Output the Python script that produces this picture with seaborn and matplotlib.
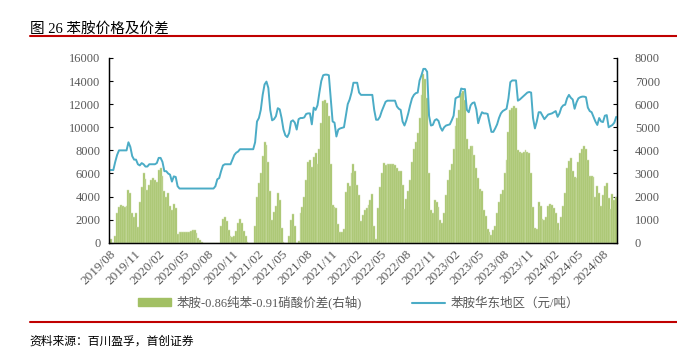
import pandas as pd
import matplotlib
matplotlib.use("Agg")
import matplotlib.pyplot as plt
import matplotlib.dates as mdates
from matplotlib.lines import Line2D
from matplotlib.patches import Patch
import seaborn as sns

# weekly observations, first week ending 2019-08-02
START = "2019-08-02"

# 苯胺华东地区 (元/吨), left axis
aniline_price = [
    6300, 6300, 6300, 7000, 7600, 8000, 8000, 8000, 8000, 8000,
    8700, 8300, 7500, 7200, 7200, 6800, 6700, 6900, 6800, 6600,
    6600, 6800, 6800, 6800, 6800, 6900, 7350, 7350, 7000, 6200,
    6200, 6000, 5900, 5300, 5750, 5700, 4900, 4700, 4700, 4700,
    4700, 4700, 4700, 4700, 4700, 4700, 4700, 4700, 4700, 4700,
    4700, 4700, 4700, 4700, 4700, 4700, 4900, 5500, 5600, 6200,
    6700, 6800, 6800, 6800, 6800, 7200, 7600, 7800, 7900, 8100,
    8100, 8100, 8100, 8100, 8100, 8100, 8100, 8700, 10500, 10800,
    11500, 12800, 13700, 13950, 13400, 11500, 10600, 10700, 10950, 11650,
    11550, 10800, 9800, 9300, 9150, 9500, 10500, 10600, 10400, 9800,
    10700, 10800, 10800, 10850, 11150, 11200, 11200, 10250, 11700, 11500,
    11900, 13000, 14000, 14500, 14550, 14550, 14500, 12500, 10500, 10400,
    9200, 9800, 9900, 9950, 10000, 11000, 12000, 12400, 13000, 13850,
    13850, 13850, 13000, 12800, 12800, 12800, 12800, 12800, 12800, 12800,
    11500, 10650, 10650, 10900, 11400, 11800, 12200, 12300, 12300, 12300,
    12300, 12300, 11800, 11600, 11500, 10500, 10150, 10600, 11200, 11900,
    12500, 12800, 12950, 13000, 14050, 14500, 15050, 15050, 14800, 11000,
    10150, 10200, 10600, 10700, 10550, 10000, 9700, 10000, 10150, 10200,
    10250, 10600, 11000, 12500, 12600, 12650, 13350, 13300, 13300, 11500,
    11300, 11900, 12100, 12150, 11550, 10350, 10900, 11300, 11200, 11200,
    11150, 10350, 9600, 9600, 9900, 10250, 10800, 11200, 11400, 11500,
    11600, 12500, 13900, 14050, 14050, 14050, 12300, 12400, 12550, 12700,
    12850, 13000, 13050, 13000, 10800, 9900, 10500, 11300, 11300, 11000,
    10700, 10900, 11100, 11150, 11200, 11300, 11400, 10900, 11200, 11700,
    11900, 11950, 12500, 12800, 12550, 12400, 11600, 12150, 12500, 12600,
    12650, 12650, 12600, 11700, 11400, 11300, 10900, 10500, 10200, 10800,
    10500, 10450, 11000, 11050, 10000, 10100, 10200, 10400, 10900,
]

# 苯胺-0.86纯苯-0.91硝酸价差, right axis
spread = [
    150, 150, 0, 300, 1280, 1550, 1650, 1600, 1550, 1600,
    2300, 2150, 1300, 1120, 1280, 700, 1750, 2400, 3000, 2750,
    2300, 2500, 2700, 2800, 2700, 2650, 3150, 3250, 2900, 2250,
    2000, 2150, 1600, 1400, 1700, 1500, 400, 480, 480, 450,
    480, 450, 480, 500, 550, 570, 420, 200, 120, 50,
    -50, -50, -50, -50, -40, -40, -40, -25, 0, 750,
    1050, 1120, 950, 550, 300, 250, 300, 500, 850, 1050,
    850, 500, 300, 50, -40, -50, -50, 750, 2000, 2600,
    3000, 3750, 4350, 4250, 3500, 2250, 1000, 1350, 1600, 2150,
    1850, 650, 50, -25, -40, 300, 1000, 1250, 750, 0,
    100, 1300, 1550, 2000, 2700, 3500, 3600, 3300, 3700, 3900,
    3400, 4050, 5200, 6150, 6200, 6050, 5500, 3400, 1650, 1550,
    1500, 800, 480, 480, 600, 2200, 2600, 2450, 3000, 3400,
    3100, 2500, 2080, 930, 1200, 1400, 1500, 1650, 1850, 2100,
    750, 150, 1500, 2400, 3000, 3450, 3350, 3400, 3400, 3400,
    3400, 3350, 3250, 3100, 3100, 2500, 1450, 1900, 2250, 2720,
    3500, 4050, 4350, 4750, 5400, 6400, 7300, 7100, 6250, 3000,
    1400, 1300, 1850, 1750, 1550, 1000, 850, 1300, 2050, 2700,
    3150, 3400, 4050, 5050, 5400, 5750, 6500, 6550, 6200, 4500,
    4050, 4200, 4200, 3800, 3250, 2800, 2350, 2250, 1400, 1150,
    600, 480, 350, 550, 750, 1300, 1750, 2100, 2300, 3000,
    3600, 4800, 5750, 5850, 5900, 5850, 4000, 3950, 3900, 3950,
    4000, 3950, 3900, 3000, 1550, 650, 600, 1750, 1600, 1050,
    1000, 1100, 1600, 1700, 1650, 1500, 1300, 850, 550, 1100,
    1600, 2150, 3250, 3550, 3650, 3100, 2850, 2800, 3500, 3900,
    4050, 4200, 4050, 3600, 2900, 2900, 2850, 2000, 2450, 2150,
    1600, 2050, 2450, 2600, 1950, 1450, 2100, 1850, 2000,
]

bar_label = "苯胺-0.86纯苯-0.91硝酸价差(右轴)"
line_label = "苯胺华东地区（元/吨）"
title = "图 26 苯胺价格及价差"
source = "资料来源：百川盈孚，首创证券"

sns.set_style("white")
plt.rcParams['font.family'] = ['Liberation Serif', 'Noto Sans CJK SC', 'DejaVu Sans']
plt.rcParams['axes.unicode_minus'] = False

df = pd.DataFrame({
    "date": pd.date_range(START, periods=len(spread), freq="7D"),
    "price": aniline_price,
    "spread": spread,
})

GREY = "#595959"
GREEN = "#A2C064"
BLUE = "#4BACC6"

fig = plt.figure(figsize=(6.77, 3.53), dpi=100)
ax = fig.add_axes([0.161, 0.312, 0.750, 0.524])
ax2 = ax.twinx()

ax2.bar(df["date"], df["spread"], width=7, color=GREEN,
        edgecolor="#D3E2B4", linewidth=0.35, align="center")
sns.lineplot(data=df, x="date", y="price", ax=ax, color=BLUE, linewidth=1.4)

# line above bars
ax.set_zorder(ax2.get_zorder() + 1)
ax.patch.set_visible(False)

ax.set_ylim(0, 16000)
ax.set_yticks(range(0, 16001, 2000))
ax2.set_ylim(0, 8000)
ax2.set_yticks(range(0, 8001, 1000))
ax.set_xlim(pd.Timestamp("2019-07-31"), pd.Timestamp("2024-09-22"))
ax.xaxis.set_major_locator(mdates.MonthLocator(bymonth=[2, 5, 8, 11]))
ax.xaxis.set_major_formatter(mdates.DateFormatter("%Y/%m"))
ax.set_xlabel("")
ax.set_ylabel("")
ax2.set_ylabel("")

for a in (ax, ax2):
    for s in ("left", "right", "bottom"):
        a.spines[s].set_color("black")
        a.spines[s].set_linewidth(0.9)
    a.spines["top"].set_visible(False)
    a.tick_params(direction="in", length=3, width=0.8, colors="black",
                  labelcolor=GREY, labelsize=9)
ax.tick_params(axis="x", labelsize=9.5)
ax.tick_params(axis="y", pad=6)
ax2.tick_params(axis="y", pad=13)
for lab in ax.get_xticklabels():
    lab.set_rotation(45)
    lab.set_ha("right")
    lab.set_rotation_mode("anchor")

handles = [Patch(color=GREEN), Line2D([0], [0], color=BLUE, lw=1.5)]
fig.legend(handles, [bar_label, line_label], loc="center", ncol=2,
           bbox_to_anchor=(0.53, 0.142), frameon=False, fontsize=9,
           labelcolor=GREY, handlelength=2.6, handleheight=0.6,
           columnspacing=4.0, handletextpad=0.5)

fig.text(0.044, 0.907, title, fontsize=10.5, color="black", va="baseline",
         family=['Liberation Serif', 'Noto Sans CJK SC'])
fig.add_artist(Line2D([0.044, 1.0], [0.897, 0.897], color="#C00000", lw=1.5))
fig.add_artist(Line2D([0.044, 1.0], [0.088, 0.088], color="#C00000", lw=1.5))
fig.text(0.044, 0.025, source, fontsize=8.5, color="black", va="baseline",
         family=['Noto Sans CJK SC'], style="italic")

fig.savefig("out.png", dpi=100)
